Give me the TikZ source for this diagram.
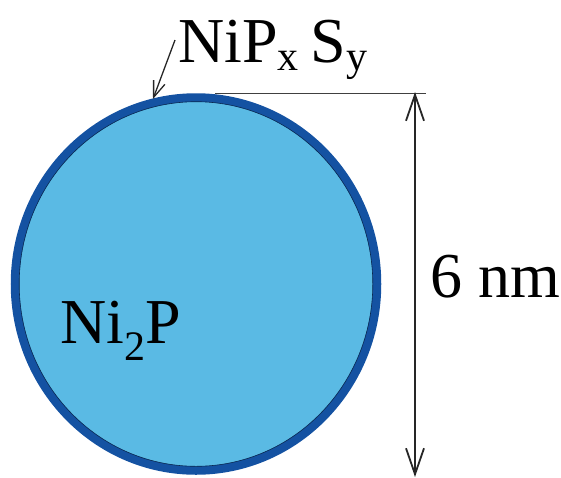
\documentclass[tikz,border=0pt]{standalone}
\usepackage{fontspec}
\setmainfont{Liberation Serif}
\usetikzlibrary{arrows.meta}

\definecolor{coreblue}{RGB}{90,186,228}
\definecolor{shellblue}{RGB}{20,82,162}

% lowered, smaller text for subscripts
\newcommand{\lowsub}[2][10pt]{\raisebox{-#1}{\fontsize{42}{42}\selectfont #2}}

\begin{document}
\begin{tikzpicture}[
    x=1pt, y=-1pt,
    >={Straight Barb[length=26pt, width=18pt]}, % Open arrow tips
    lbl/.style={font=\fontsize{64}{64}\selectfont, inner sep=0pt, anchor=base west, text=black}
]
\useasboundingbox (0,0) rectangle (561,477);

% Particle: core and shell
\fill[coreblue] (196,284) ellipse (182 and 187);
\draw[shellblue, line width=8.5pt] (196,284) ellipse (181 and 186.5);
\draw[black!50!shellblue, line width=0.6pt] (196,284) ellipse (176.8 and 182.3);

% Points for the size bar
\coordinate (top) at (415,92);
\coordinate (bot) at (415,477);
\coordinate (tan) at (215,93);
\coordinate (tanend) at (426,93);
\coordinate (hit) at (153,99);

% Labels
\node[lbl] (shell) at (178,62) {NiP\lowsub[8pt]{x}\hspace{-4pt} S\lowsub[8pt]{y}};
\node[lbl] (core) at (60,343) {Ni\lowsub[17pt]{2}P};
\node[lbl] (size) at (430,297) {6 nm};

% Shell pointer
\draw[->, black!85, line width=1.3pt, >={Straight Barb[length=16pt, width=12pt]}] (shell.west |- 0,40) ++(-3,0) -- (hit);

% Size bar
\draw[black!75, line width=0.7pt] (tan) -- (tanend);
\draw[<->, black!85, line width=1.8pt] (top) -- (bot);

\end{tikzpicture}
\end{document}
